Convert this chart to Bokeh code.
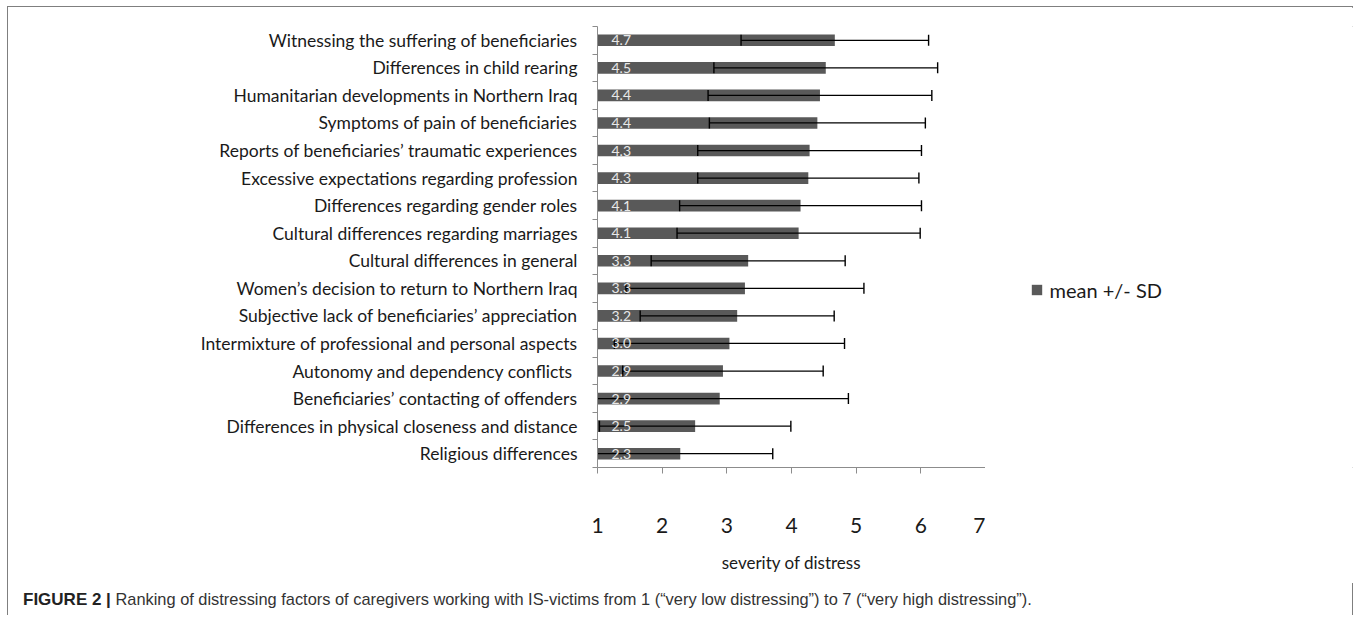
import numpy as np
from bokeh.plotting import figure
from bokeh.layouts import column, row
from bokeh.models import (FixedTicker, Range1d, Legend, LegendItem, Div,
                          ColumnDataSource)
from bokeh.core.properties import value
from bokeh.embed import file_html
from bokeh.resources import INLINE

# ---------------- data ----------------
categories = [
    "Witnessing the suffering of beneficiaries",
    "Differences in child rearing",
    "Humanitarian developments in Northern Iraq",
    "Symptoms of pain of beneficiaries",
    "Reports of beneficiaries\u2019 traumatic experiences",
    "Excessive expectations regarding profession",
    "Differences regarding gender roles",
    "Cultural differences regarding marriages",
    "Cultural differences in general",
    "Women\u2019s decision to return to Northern Iraq",
    "Subjective lack of beneficiaries\u2019 appreciation",
    "Intermixture of professional and personal aspects",
    "Autonomy and dependency conflicts ",
    "Beneficiaries\u2019 contacting of offenders",
    "Differences in physical closeness and distance",
    "Religious differences",
]
means = [4.67, 4.53, 4.44, 4.40, 4.28, 4.26, 4.14, 4.11,
         3.33, 3.28, 3.16, 3.04, 2.94, 2.89, 2.51, 2.28]
sds = [1.45, 1.73, 1.73, 1.67, 1.73, 1.71, 1.87, 1.88,
       1.50, 1.84, 1.50, 1.78, 1.55, 1.99, 1.48, 1.43]
x_ticks = [1, 2, 3, 4, 5, 6, 7]
x_title = "severity of distress"
legend_label = "mean +/- SD"
caption_bold = "FIGURE 2 |"
caption_text = ("Ranking of distressing factors of caregivers working with IS-victims from 1 "
                "(\u201cvery low distressing\u201d) to 7 (\u201cvery high distressing\u201d).")

n = len(categories)
ypos = [n - 0.5 - i for i in range(n)]
lower = [m - s for m, s in zip(means, sds)]
upper = [m + s for m, s in zip(means, sds)]
labels = [f"{m:.1f}" for m in means]

src = ColumnDataSource(dict(y=ypos, mean=means, lower=lower, upper=upper,
                            label=labels, base=[x_ticks[0]] * n))

BAR = "#595959"
AX = "#8c8c8c"
FONT = "Lato"
FIG_H = 576

p = figure(width=977, height=FIG_H, output_backend="svg",
           toolbar_location=None,
           x_range=Range1d(x_ticks[0], x_ticks[-1]), y_range=Range1d(0, n),
           min_border_left=589, min_border_right=0,
           min_border_top=19, min_border_bottom=FIG_H - 19 - 441)
p.outline_line_color = None
p.xgrid.visible = False
p.ygrid.visible = False
p.background_fill_color = "white"
p.border_fill_color = "white"

p.hbar(y="y", left="base", right="mean", height=0.42, source=src,
       fill_color=BAR, line_color=None)

# error bars
p.segment(x0="lower", y0="y", x1="upper", y1="y", source=src,
          line_color="black", line_width=1.3)
p.scatter(x="lower", y="y", source=src, marker="dash", angle=np.pi / 2,
          size=11, line_color="black", line_width=1.4)
p.scatter(x="upper", y="y", source=src, marker="dash", angle=np.pi / 2,
          size=11, line_color="black", line_width=1.4)

# value labels inside bars
p.text(x="base", y="y", text="label", source=src, x_offset=14,
       text_baseline="middle", text_align="left",
       text_font=value(FONT), text_font_size="14px", text_color="#e8e8e8")

# x axis
xa = p.xaxis[0]
xa.ticker = FixedTicker(ticks=x_ticks)
xa.axis_line_color = AX
xa.major_tick_line_color = AX
xa.major_tick_out = 6
xa.major_tick_in = 0
xa.minor_tick_line_color = None
xa.major_label_text_font = FONT
xa.major_label_text_font_size = "21px"
xa.major_label_text_color = "#1a1a1a"
xa.major_label_standoff = 44
xa.axis_label = x_title
xa.axis_label_text_font = FONT
xa.axis_label_text_font_size = "17px"
xa.axis_label_text_font_style = "normal"
xa.axis_label_text_color = "#1a1a1a"
xa.axis_label_standoff = 16

# y axis
ya = p.yaxis[0]
ya.ticker = FixedTicker(ticks=ypos, minor_ticks=list(range(n + 1)))
ya.major_label_overrides = {y: c for y, c in zip(ypos, categories)}
ya.axis_line_color = AX
ya.major_tick_line_color = None
ya.major_tick_out = 0
ya.major_tick_in = 0
ya.minor_tick_line_color = AX
ya.minor_tick_out = 5
ya.minor_tick_in = 0
ya.major_label_text_font = FONT
ya.major_label_text_font_size = "17.5px"
ya.major_label_text_color = "#1a1a1a"
ya.major_label_standoff = 15

# legend, drawn in a side canvas to the right of the chart
pl = figure(width=369, height=FIG_H, output_backend="svg", toolbar_location=None,
            x_axis_location=None, y_axis_location=None, min_border=0,
            x_range=Range1d(0, 1), y_range=Range1d(0, 1))
pl.outline_line_color = None
pl.xgrid.visible = False
pl.ygrid.visible = False
# zero-width key renderer: it only supplies the legend swatch
key = pl.hbar(y=[0.5], left=[0], right=[0], height=0.4,
              fill_color=BAR, line_color=None)
legend = Legend(items=[LegendItem(label=legend_label, renderers=[key])],
                location=(44.5, 165), orientation="vertical",
                glyph_width=13, glyph_height=13, label_standoff=7,
                label_text_font=FONT, label_text_font_size="20px",
                label_text_color="#1a1a1a", padding=0, margin=0, spacing=0,
                border_line_color=None, background_fill_alpha=0)
pl.add_layout(legend, "center")

caption = Div(
    text=('<div style="margin-left:10px; white-space:nowrap; line-height:16px;">'
          f'<b style="color:#222222; font-size:17px">{caption_bold}</b> '
          f'{caption_text}</div>'),
    width=1346, height=22,
    styles={"font-family": "'Liberation Sans', Arial, sans-serif",
            "font-size": "16.4px", "color": "#333333"})

root = column(row(p, pl), caption, width=1346,
              styles={"margin-left": "7px", "margin-top": "5.5px",
                      "border-left": "1.5px solid #7f7f7f",
                      "border-top": "1.5px solid #7f7f7f",
                      "border-right": "1.5px solid #7f7f7f",
                      "background-color": "white"})

open("out.html", "w").write(file_html(root, INLINE))
